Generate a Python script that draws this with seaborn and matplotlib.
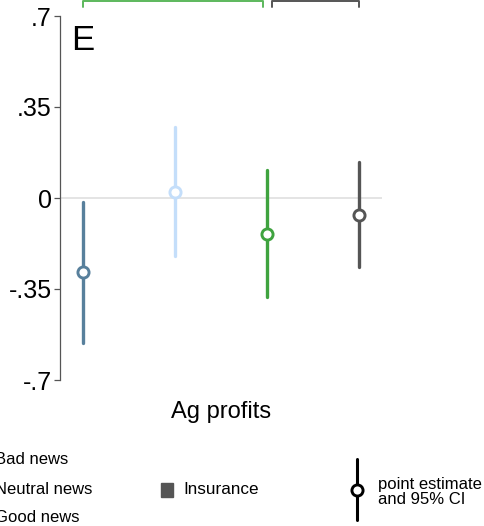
import pandas as pd
import numpy as np
import matplotlib
matplotlib.use('Agg')
import matplotlib.pyplot as plt
from matplotlib.lines import Line2D
from matplotlib.patches import Rectangle
import seaborn as sns

# valores (estimativa e IC 95%)
grupos = ['Bad news', 'Neutral news', 'Good news', 'Insurance']
estimativa = [-0.285, 0.023, -0.137, -0.065]
ic_inf = [-0.556, -0.222, -0.379, -0.267]
ic_sup = [-0.014, 0.275, 0.107, 0.139]
cores = ['#58809c', '#c4defa', '#3fa33f', '#555555']
yticks = [-0.7, -0.35, 0, 0.35, 0.7]
ytick_labels = ['-.7', '-.35', '0', '.35', '.7']

# tabela longa: cada grupo com (inf, est, sup) -> mediana = estimativa, pi 100 = IC
df = pd.DataFrame({
    'grupo': np.repeat(grupos, 3),
    'valor': np.column_stack([ic_inf, estimativa, ic_sup]).ravel(),
})

sns.set_style('white')
plt.rcParams['font.family'] = ['Liberation Sans', 'DejaVu Sans']
plt.rcParams['text.color'] = 'black'
plt.rcParams['ytick.labelcolor'] = 'black'

fig = plt.figure(figsize=(4.85, 5.26), dpi=100)
ax = fig.add_axes([60 / 485, 1 - 380 / 526, 322 / 485, 364 / 526])

ax.axhline(0, color='#e2e2e2', lw=1.3, zorder=0)
sns.pointplot(data=df, x='grupo', y='valor', hue='grupo', palette=cores,
              estimator=np.median, errorbar=('pi', 100), linestyle='none',
              markers='o', markersize=8, markerfacecolor='white',
              markeredgewidth=2.1, err_kws={'linewidth': 2.4, 'zorder': 2},
              legend=False, ax=ax, zorder=4)

ax.set_xlim(-0.246, 3.246)
ax.set_ylim(-0.7, 0.7)
ax.set_yticks(yticks)
ax.set_yticklabels(ytick_labels, fontsize=18, color='black')
ax.set_xticks([])
ax.set_xlabel('')
ax.set_ylabel('')
for s in ['top', 'right', 'bottom']:
    ax.spines[s].set_visible(False)
ax.spines['left'].set_color('#555555')
ax.spines['left'].set_linewidth(0.9)
ax.tick_params(axis='y', length=4, width=0.9, color='#555555', pad=2, left=True)

# colchetes acima do gráfico
ax.plot([0, 0, 1.956, 1.956], [0.735, 0.758, 0.758, 0.735], color='#5cb85c',
        lw=1.4, clip_on=False)
ax.plot([2.053, 2.053, 3, 3], [0.735, 0.758, 0.758, 0.735], color='#555555',
        lw=1.4, clip_on=False)

fig.text(71 / 485, 1 - 50 / 526, 'E', fontsize=25, va='baseline')
fig.text(221 / 485, 1 - 418 / 526, 'Ag profits', fontsize=17, ha='center',
         va='baseline')

# legenda (cortada à esquerda como no original)
for nome, ypx in zip(grupos[:3], [459, 489, 518]):
    fig.text(-5 / 485, 1 - ypx / 526, nome, fontsize=12, va='center')
fig.patches.append(Rectangle((160.7 / 485, 1 - 496.7 / 526), 12.6 / 485, 13.4 / 526,
                             transform=fig.transFigure, color='#555555'))
fig.text(183 / 485, 1 - 490 / 526, 'Insurance', fontsize=12.3, va='center')
fig.lines.append(Line2D([356.7 / 485, 356.7 / 485], [1 - 459 / 526, 1 - 520 / 526],
                        transform=fig.transFigure, color='black', lw=2.2))
fig.lines.append(Line2D([356.7 / 485], [1 - 490 / 526], transform=fig.transFigure,
                        marker='o', markersize=8, markerfacecolor='white',
                        markeredgecolor='black', markeredgewidth=2.1))
fig.text(378 / 485, 1 - 492 / 526, 'point estimate\nand 95% CI', fontsize=12,
         va='center', linespacing=0.95)

plt.savefig('out.png', dpi=100)
plt.close()
